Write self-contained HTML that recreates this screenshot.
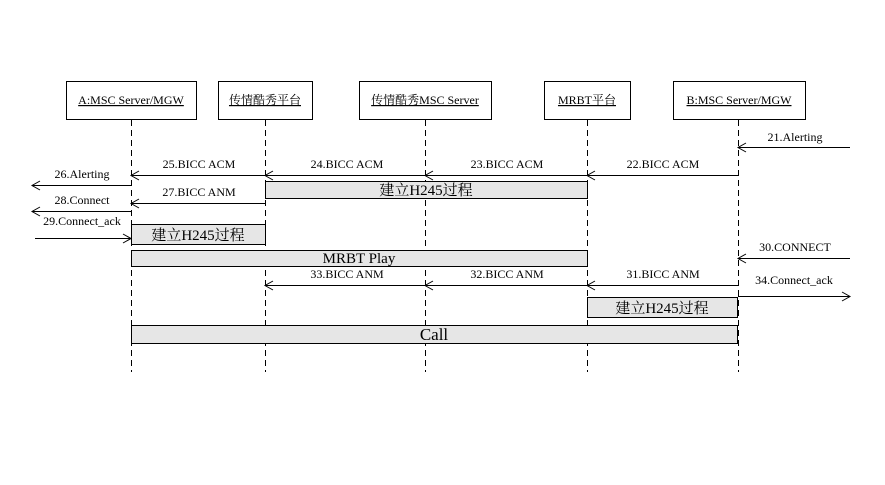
<!DOCTYPE html><html><head><style>body{margin:0;background:#fff}</style></head><body>
<svg width="885" height="480" xmlns="http://www.w3.org/2000/svg" font-family="Liberation Serif, Noto Serif CJK SC, serif" font-size="12">
<g fill="#fff" stroke="#000">
<rect x="66.5" y="81.5" width="130" height="38"/><rect x="218.5" y="81.5" width="94" height="38"/>
<rect x="359.5" y="81.5" width="132" height="38"/><rect x="544.5" y="81.5" width="86" height="38"/>
<rect x="673.5" y="81.5" width="132" height="38"/></g>
<g text-anchor="middle" text-decoration="underline">
<text x="131" y="104">A:MSC Server/MGW</text><text x="265" y="104">传情酷秀平台</text>
<text x="425" y="104">传情酷秀MSC Server</text><text x="587" y="104">MRBT平台</text><text x="739" y="104">B:MSC Server/MGW</text></g>
<g stroke="#000" stroke-dasharray="6,4"><line x1="131.5" y1="120" x2="131.5" y2="372"/><line x1="265.5" y1="120" x2="265.5" y2="372"/><line x1="425.5" y1="120" x2="425.5" y2="372"/><line x1="587.5" y1="120" x2="587.5" y2="372"/><line x1="738.5" y1="120" x2="738.5" y2="372"/></g>
<g fill="#e6e6e6" stroke="#000">
<rect x="265.5" y="181.5" width="322" height="17"/><rect x="131.5" y="224.5" width="134" height="20"/>
<rect x="131.5" y="250.5" width="456" height="16"/><rect x="587.5" y="297.5" width="150" height="20"/>
<rect x="131.5" y="325.5" width="606" height="18"/></g>
<g text-anchor="middle" font-size="15"><text x="426" y="195">建立H245过程</text><text x="198" y="240">建立H245过程</text>
<text x="359" y="263">MRBT Play</text><text x="662" y="313">建立H245过程</text><text x="434" y="340" font-size="17">Call</text></g>
<g stroke="#000" fill="none">
<path d="M850 147.5H738M746 143l-8 4.5 8 4.5"/>
<path d="M738 175.5H131M595 171l-8 4.5 8 4.5M433 171l-8 4.5 8 4.5M273 171l-8 4.5 8 4.5M139 171l-8 4.5 8 4.5"/>
<path d="M131 185.5H32M40 181l-8 4.5 8 4.5"/>
<path d="M265 203.5H131M139 199l-8 4.5 8 4.5"/>
<path d="M131 211.5H32M40 207l-8 4.5 8 4.5"/>
<path d="M35 238.5H131M123 234l8 4.5-8 4.5"/>
<path d="M850 258.5H738M746 254l-8 4.5 8 4.5"/>
<path d="M738 285.5H265M595 281l-8 4.5 8 4.5M433 281l-8 4.5 8 4.5M273 281l-8 4.5 8 4.5"/>
<path d="M738 296.5H850M842 292l8 4.5-8 4.5"/></g>
<g text-anchor="middle">
<text x="795" y="141">21.Alerting</text><text x="663" y="168">22.BICC ACM</text><text x="507" y="168">23.BICC ACM</text>
<text x="347" y="168">24.BICC ACM</text><text x="199" y="168">25.BICC ACM</text><text x="82" y="178">26.Alerting</text>
<text x="199" y="196">27.BICC ANM</text><text x="82" y="204">28.Connect</text><text x="82" y="225">29.Connect_ack</text>
<text x="795" y="251">30.CONNECT</text><text x="663" y="278">31.BICC ANM</text><text x="507" y="278">32.BICC ANM</text>
<text x="347" y="278">33.BICC ANM</text><text x="794" y="284">34.Connect_ack</text></g>
</svg></body></html>
